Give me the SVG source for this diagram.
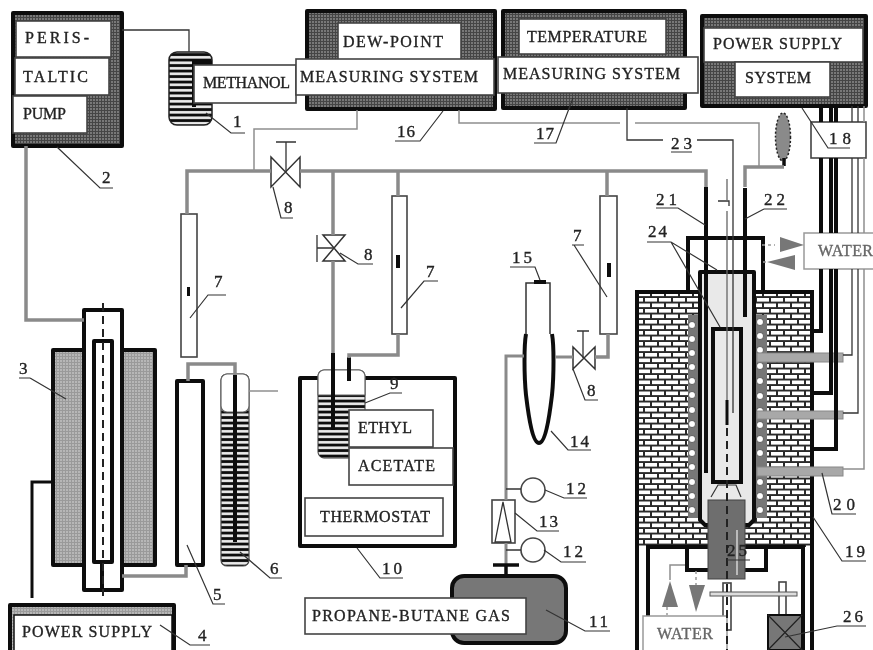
<svg xmlns="http://www.w3.org/2000/svg" width="873" height="650" viewBox="0 0 873 650">
<style>
text{font-family:"Liberation Serif","DejaVu Serif",serif;fill:#222;font-size:16px;stroke:#222;stroke-width:.35}
.n{font-size:17px}
.k{stroke:#111;stroke-width:4;fill:none}
.kb{stroke:#111;stroke-width:4;stroke-linejoin:round}
.p{stroke:#8a8a8a;stroke-width:3.5;fill:none}
.t{stroke:#8f8f8f;stroke-width:1.5;fill:none}
.d{stroke:#333;stroke-width:1.3;fill:none}
.o{stroke:#444;stroke-width:1.6;fill:#fff}
.l{stroke:#333;stroke-width:1.2;fill:none}
.axis{stroke:#222;stroke-width:2;stroke-dasharray:8 5;fill:none}
</style>
<defs>
<filter id="soft" x="0" y="0" width="100%" height="100%"><feGaussianBlur stdDeviation="0.45"/></filter>
<pattern id="dots" width="3" height="3" patternUnits="userSpaceOnUse"><rect width="3" height="3" fill="#444"/><circle cx="1" cy="1" r=".8" fill="#bbb"/></pattern>
<pattern id="lightdots" width="3" height="3" patternUnits="userSpaceOnUse"><rect width="3" height="3" fill="#9a9a9a"/><circle cx="1" cy="1" r=".8" fill="#ddd"/></pattern>
<pattern id="stripes" width="6" height="5.5" patternUnits="userSpaceOnUse"><rect width="6" height="5.5" fill="#111"/><rect y="1" width="6" height="2.6" fill="#eee"/></pattern>
<pattern id="bricks" width="14" height="11" patternUnits="userSpaceOnUse"><rect width="14" height="11" fill="#2b2b2b"/><rect x="1" y="1" width="12" height="3.6" fill="#fff"/><rect x="8" y="6.5" width="12" height="3.6" fill="#fff"/><rect x="-6" y="6.5" width="12" height="3.6" fill="#fff"/></pattern>
</defs>
<g filter="url(#soft)">
<rect width="873" height="650" fill="#fff"/>
<g id="n1-methanol">
<rect x="169" y="52" width="43" height="73" rx="8" fill="url(#stripes)" stroke="#222" stroke-width="1.5"/>
<path class="k" d="M212 63H194V107"/>
<rect class="o" x="194" y="65" width="102" height="38"/>
<text x="203" y="88" textLength="87">METHANOL</text>
</g>
<g id="n2-pump">
<rect class="kb" x="13" y="13" width="109" height="133" fill="url(#dots)"/>
<rect class="o" x="16" y="21" width="95" height="36"/>
<rect class="o" x="15" y="58" width="94" height="37"/>
<rect class="o" x="13" y="96" width="74" height="37"/>
<text x="25" y="43" textLength="64">PERIS-</text>
<text x="23" y="82" textLength="65">TALTIC</text>
<text x="23" y="119" textLength="43">PUMP</text>
</g>
<g id="n3-furnace">
<rect class="kb" x="53" y="350" width="102" height="215" fill="url(#lightdots)"/>
<rect class="kb" x="84" y="310" width="38" height="280" fill="#fff"/>
<rect class="kb" x="94" y="341" width="18" height="221" fill="#fff"/>
<path class="k" d="M102 562V590"/>
<path class="axis" d="M103 303V596"/>
</g>
<g id="n4-power">
<rect class="kb" x="10" y="605" width="164" height="50" fill="url(#lightdots)"/>
<rect x="14" y="615" width="158" height="40" fill="#fff" stroke="#111" stroke-width="1.5"/>
<text x="22" y="637" textLength="130">POWER SUPPLY</text>
</g>
<g id="n5-column">
<rect class="kb" x="177" y="381" width="26" height="184" fill="#fff"/>
</g>
<g id="n6-vial">
<rect x="221" y="374" width="28" height="192" rx="6" fill="url(#stripes)" stroke="#444" stroke-width="1.2"/>
<path d="M221 380a6 6 0 0 1 6-6h16a6 6 0 0 1 6 6v26a6 6 0 0 1-6 6h-16a6 6 0 0 1-6-6z" fill="#fff" stroke="#666" stroke-width="1.2"/>
<path class="k" d="M235 375V542"/>
</g>
<g id="n7-a">
<rect class="o" x="181" y="214" width="16" height="143"/>
<rect x="187" y="287" width="3" height="9" fill="#111"/>
</g>
<g id="n7-b">
<rect class="o" x="392" y="196" width="15" height="138"/>
<rect x="396" y="255" width="4" height="13" fill="#111"/>
</g>
<g id="n7-c">
<rect class="o" x="600" y="196" width="17" height="138"/>
<rect x="607" y="263" width="4" height="14" fill="#111"/>
</g>
<g id="n8-a">
<path d="M271 157L300 187V157L271 187Z" fill="#fff" stroke="#333" stroke-width="1.5"/>
<path class="d" d="M286 172V142M276 142H296"/>
</g>
<g id="n8-b">
<path d="M323 235H345L323 261H345Z" fill="#fff" stroke="#333" stroke-width="1.5"/>
<path class="d" d="M334 248H317M317 235V262"/>
</g>
<g id="n8-c">
<path d="M573 347L595 369V347L573 369Z" fill="#fff" stroke="#333" stroke-width="1.5"/>
<path class="d" d="M583 358V331M577 331H589"/>
</g>
<g id="n9-n10-thermostat">
<rect class="kb" x="300" y="378" width="155" height="168" fill="#fff"/>
<rect x="318" y="370" width="47" height="88" rx="6" fill="url(#stripes)" stroke="#333" stroke-width="1"/>
<path d="M318 376a6 6 0 0 1 6-6h35a6 6 0 0 1 6 6v19h-47z" fill="#fff" stroke="#666" stroke-width="1.2"/>
<path class="k" d="M333 353V430"/>
<path class="k" d="M349 357V381"/>
<rect class="o" x="349" y="410" width="84" height="37"/>
<rect class="o" x="349" y="448" width="104" height="37"/>
<rect class="o" x="305" y="498" width="138" height="38"/>
<text x="358" y="433" textLength="54">ETHYL</text>
<text x="358" y="471" textLength="77">ACETATE</text>
<text x="320" y="522" textLength="110">THERMOSTAT</text>
</g>
<g id="n11-tank">
<rect class="kb" x="452" y="576" width="114" height="67" rx="12" fill="#777"/>
<rect class="o" x="305" y="598" width="221" height="36"/>
<text x="312" y="621" textLength="198">PROPANE-BUTANE GAS</text>
</g>
<g id="n12-a"><circle class="o" cx="533" cy="490" r="12"/></g>
<g id="n12-b"><circle class="o" cx="533" cy="550" r="12"/></g>
<g id="n13-flowmeter">
<rect class="o" x="492" y="500" width="23" height="43"/>
<path class="d" d="M503 502L495 542H511Z"/>
</g>
<g id="n14-n15-burner">
<rect x="526" y="283" width="24" height="60" fill="#fff" stroke="#333" stroke-width="1.5"/>
<path d="M526 334C524 345 524 375 526 395C529 420 533 443 539 443C545 443 549 420 552 395C554 375 554 345 552 334" fill="#fff" stroke="#111" stroke-width="4"/>
<rect x="534" y="280" width="12" height="4" fill="#111"/>
</g>
<g id="n16-dewpoint">
<rect class="kb" x="307" y="11" width="188" height="98" fill="url(#dots)"/>
<rect class="o" x="338" y="23" width="123" height="37"/>
<rect class="o" x="296" y="59" width="198" height="36"/>
<text x="343" y="47" textLength="100">DEW-POINT</text>
<text x="300" y="82" textLength="178">MEASURING SYSTEM</text>
</g>
<g id="n17-temperature">
<rect class="kb" x="503" y="11" width="182" height="97" fill="url(#dots)"/>
<rect class="o" x="519" y="19" width="147" height="35"/>
<rect class="o" x="498" y="57" width="200" height="36"/>
<text x="527" y="42" textLength="120">TEMPERATURE</text>
<text x="503" y="79" textLength="177">MEASURING SYSTEM</text>
</g>
<g id="power-system">
<rect class="kb" x="702" y="16" width="164" height="90" fill="url(#dots)"/>
<rect class="o" x="704" y="28" width="159" height="34"/>
<rect class="o" x="735" y="62" width="95" height="35"/>
<text x="713" y="49" textLength="129">POWER SUPPLY</text>
<text x="745" y="83" textLength="66">SYSTEM</text>
</g>
<g id="n18-box"><rect class="o" x="811" y="122" width="55" height="36"/></g>
<g id="flame">
<ellipse cx="783" cy="137" rx="7.5" ry="24" fill="#8a8a8a" stroke="#222" stroke-width="1.5" stroke-dasharray="2 2"/>
<path d="M784 158V166" stroke="#111" stroke-width="3.5"/>
</g>
<g id="n19-furnace">
<rect x="639" y="294" width="171" height="253" fill="url(#bricks)"/>
<path class="k" d="M637 650V292H812V650M648 650V547H803V650"/>
<rect x="688" y="315" width="12" height="203" fill="#777"/>
<rect x="754" y="315" width="13" height="203" fill="#777"/>
<g fill="#fff" stroke="#222" stroke-width=".6">
<circle cx="692" cy="325" r="3.5"/><circle cx="692" cy="339" r="3.5"/><circle cx="692" cy="353" r="3.5"/><circle cx="692" cy="367" r="3.5"/><circle cx="692" cy="381" r="3.5"/><circle cx="692" cy="395" r="3.5"/><circle cx="692" cy="410" r="3.5"/><circle cx="692" cy="424" r="3.5"/><circle cx="692" cy="439" r="3.5"/><circle cx="692" cy="453" r="3.5"/><circle cx="692" cy="467" r="3.5"/><circle cx="692" cy="482" r="3.5"/><circle cx="692" cy="496" r="3.5"/><circle cx="692" cy="510" r="3.5"/>
<circle cx="760" cy="322" r="3.5"/><circle cx="760" cy="336" r="3.5"/><circle cx="760" cy="350" r="3.5"/><circle cx="760" cy="366" r="3.5"/><circle cx="760" cy="381" r="3.5"/><circle cx="760" cy="396" r="3.5"/><circle cx="760" cy="411" r="3.5"/><circle cx="760" cy="425" r="3.5"/><circle cx="760" cy="439" r="3.5"/><circle cx="760" cy="453" r="3.5"/><circle cx="760" cy="482" r="3.5"/><circle cx="760" cy="496" r="3.5"/><circle cx="760" cy="510" r="3.5"/>
</g>
<path d="M700 272H754V520L749 525H705L700 520Z" fill="#e9e9e9" stroke="#111" stroke-width="4" stroke-linejoin="round"/>
<path class="k" d="M688 290V238H763V290"/>
<rect x="713" y="329" width="28" height="153" fill="#e9e9e9" stroke="#111" stroke-width="4"/>
<path class="k" d="M706 187V473M745 188V317"/>
<path class="l" d="M711 497L718 485H736L741 497"/>
<rect x="757" y="353" width="86" height="9" fill="#a8a8a8" stroke="#888"/>
<rect x="757" y="411" width="86" height="8" fill="#a8a8a8" stroke="#888"/>
<rect x="757" y="467" width="86" height="9" fill="#a8a8a8" stroke="#888"/>
</g>
<g id="n25-cooler">
<path class="k" d="M687 547V570H708M766 547V570H745"/>
<rect x="708" y="500" width="37" height="79" fill="#6e6e6e" stroke="#444"/>
<path d="M737 530V575" stroke="#eee" stroke-width="1.2"/>
</g>
<g id="n26-drive">
<rect class="o" x="723" y="583" width="8" height="47"/>
<rect class="o" x="779" y="582" width="7" height="34"/>
<rect x="710" y="592" width="87" height="4" fill="#ddd" stroke="#555"/>
<rect x="768" y="615" width="34" height="35" fill="#777" stroke="#111" stroke-width="2"/>
<path d="M768 615L802 650M802 615L768 650" stroke="#222" stroke-width="1.2"/>
</g>
<g id="water-top">
<rect x="804" y="233" width="72" height="36" fill="#fff" stroke="#999" stroke-width="1.5"/>
<text x="818" y="256" textLength="55" style="fill:#666;stroke:#666">WATER</text>
<path d="M780 237L804 245L780 252Z" fill="#777"/>
<path d="M767 262L795 255V270Z" fill="#777"/>
</g>
<g id="water-bottom">
<rect x="643" y="616" width="84" height="38" fill="#fff" stroke="#999" stroke-width="1.5"/>
<text x="657" y="639" textLength="56" style="fill:#666;stroke:#666">WATER</text>
<path d="M670 581L678 607H662Z" fill="#777"/>
<path d="M689 585H705L696 612Z" fill="#777"/>
</g>

<g id="connectors">
<path class="d" d="M122 30H189V52"/>
<path class="p" d="M26 146V320H84"/>
<path class="k" style="stroke-width:3" d="M51 482H32V598"/>
<path class="p" d="M122 576H186V565M188 381V364H235V375"/>
<path class="t" d="M249 391H278"/>
<path class="p" d="M187 214V171H271M300 171H706V187"/>
<path class="t" d="M254 171V129H357V110"/>
<path class="p" d="M333 171V235M333 261V353"/>
<path class="p" d="M398 171V196M398 334V355H349V358"/>
<path class="p" d="M607 171V196M608 334V357H595"/>
<path class="p" style="stroke-width:3" d="M573 357H555M524 356H506V500M506 543V565"/>
<path class="d" d="M506 489H521M506 550H521"/>
<path class="k" d="M493 565H519M506 565V576" style="stroke-width:3.5"/>
<path class="t" d="M459 110V123H620M635 123H759V167"/>
<path class="d" d="M627 108V140H663M697 140H733V413"/>
<path class="p" d="M745 187V167H784"/>
<path class="d" style="stroke:#666" d="M727 179V200M727 211V400"/>
<path class="d" d="M718 201H729V206"/>
<path d="M727 400V425" stroke="#111" stroke-width="3"/>
<path class="axis" d="M727 428V650"/>
<path class="k" d="M821 106V122M821 158V233M821 269V331H813M831 106V122M831 158V233M831 269V393H813M836 106V122M836 158V233M836 269V449H813"/>
<path class="d" d="M852 106V122M852 158V233M852 269V355H843M858 106V122M858 158V233M858 269V413H843"/>
<path class="t" d="M864 106V122M864 158V233M864 269V469H843"/>
<path d="M762 245H775M766 262H760M667 607V615M696 571V585" stroke="#999" stroke-width="1.5" stroke-dasharray="3 3"/>
<path class="t" d="M685 565H670V580"/>
<path class="l" d="M206 113L231 133H245M57 147L100 188H113M30 378L66 399M19 378H30M160 625L190 645H210M187 545L213 604H225M240 552L270 578H282M190 318L208 295H226M273 187L281 218H293M340 253L358 264H373M401 308L424 281H438M574 245L607 297M572 245H584M573 369L585 400H598M365 403L390 393H402M357 548L380 578H403M546 610L585 631H610M545 490L564 498H587M544 550L561 562H586M515 513L537 531H559M551 431L568 450H591M510 267H535L540 280M395 141H420L443 111M534 143H556L573 98M802 108L828 148H850M671 152H692M656 208H678L705 225M764 209H787M764 209L745 219M647 242H671L717 270M671 242L720 327M822 473L832 514H856M813 517L842 561H866M785 637L837 626H866M727 560H750"/>
</g>

<g id="labels">
<text class="n" x="233" y="127">1</text>
<text class="n" x="102" y="183">2</text>
<text class="n" x="19" y="374">3</text>
<text class="n" x="198" y="641">4</text>
<text class="n" x="213" y="600">5</text>
<text class="n" x="270" y="574">6</text>
<text class="n" x="214" y="287">7</text>
<text class="n" x="426" y="277">7</text>
<text class="n" x="573" y="241">7</text>
<text class="n" x="284" y="213">8</text>
<text class="n" x="364" y="260">8</text>
<text class="n" x="587" y="396">8</text>
<text class="n" x="390" y="389">9</text>
<text class="n" x="382" y="574" textLength="20">10</text>
<text class="n" x="589" y="627" textLength="19">11</text>
<text class="n" x="566" y="494" textLength="20">12</text>
<text class="n" x="563" y="557" textLength="20">12</text>
<text class="n" x="539" y="527" textLength="19">13</text>
<text class="n" x="570" y="447" textLength="19">14</text>
<text class="n" x="512" y="263" textLength="20">15</text>
<text class="n" x="397" y="137" textLength="18">16</text>
<text class="n" x="536" y="139" textLength="18">17</text>
<text class="n" x="829" y="144" textLength="22">18</text>
<text class="n" x="845" y="557" textLength="20">19</text>
<text class="n" x="833" y="510" textLength="22">20</text>
<text class="n" x="656" y="205" textLength="21">21</text>
<text class="n" x="764" y="205" textLength="21">22</text>
<text class="n" x="671" y="149" textLength="21">23</text>
<text class="n" x="648" y="237" textLength="19">24</text>
<text class="n" x="727" y="556" textLength="20">25</text>
<text class="n" x="843" y="622" textLength="20">26</text>
</g>
</g>
</svg>
